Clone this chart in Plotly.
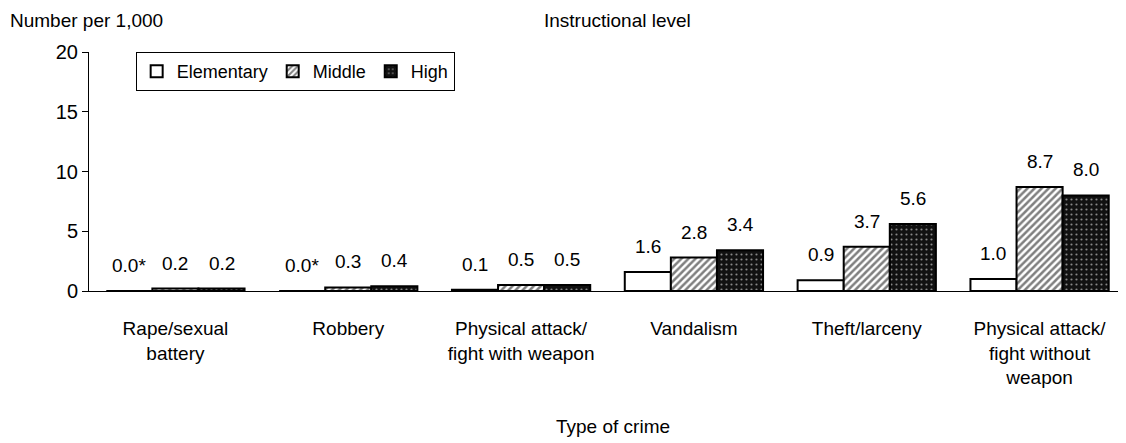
import plotly.graph_objects as go

crimes = ["Rape/sexual<br>battery", "Robbery", "Physical attack/<br>fight with weapon",
          "Vandalism", "Theft/larceny", "Physical attack/<br>fight without<br>weapon"]
elementary = [0.0, 0.0, 0.1, 1.6, 0.9, 1.0]
middle = [0.2, 0.3, 0.5, 2.8, 3.7, 8.7]
high = [0.2, 0.4, 0.5, 3.4, 5.6, 8.0]
elementary_labels = ["0.0*", "0.0*", "0.1", "1.6", "0.9", "1.0"]

FONT = "Liberation Sans, Arial, sans-serif"

# page has an 8px body margin, so the figure is drawn 8px in from the window edge
W, H = 1118, 435
ML, MT, MB, MR = 81, 44, 152, 0
plot_w = W - ML - MR
plot_h = H - MT - MB
bar_px = plot_w / len(crimes) * 0.8 / 3

fig = go.Figure()
fig.add_trace(go.Bar(x=crimes, y=elementary, name="Elementary",
                     marker=dict(color="white", line=dict(color="black", width=2))))
fig.add_trace(go.Bar(x=crimes, y=middle, name="Middle",
                     marker=dict(color="white", line=dict(color="black", width=2),
                                 pattern=dict(shape="/", fgcolor="black", bgcolor="white",
                                              size=5, solidity=0.5))))
fig.add_trace(go.Bar(x=crimes, y=high, name="High",
                     marker=dict(color="#111111", line=dict(color="black", width=2),
                                 pattern=dict(shape=".", fgcolor="white", bgcolor="#111111",
                                              size=5, solidity=0.15))))

# value labels sit well above each bar, as in the original
annots = []
series = [(elementary, elementary_labels, -1),
          (middle, ["%.1f" % v for v in middle], 0),
          (high, ["%.1f" % v for v in high], 1)]
for vals, txts, k in series:
    for cat, v, t in zip(crimes, vals, txts):
        annots.append(dict(x=cat, y=v, text=t, showarrow=False, xanchor="center",
                           yanchor="bottom", xshift=k * bar_px, yshift=13,
                           font=dict(size=19)))

top_y = (plot_h + MT) / plot_h  # top edge of the figure in paper units
annots += [
    dict(text="Number per 1,000", xref="paper", yref="paper",
         x=-ML / plot_w, y=top_y, xanchor="left", yanchor="top",
         showarrow=False, font=dict(size=19)),
    dict(text="Instructional level", xref="paper", yref="paper",
         x=0.51, y=top_y, xanchor="center", yanchor="top",
         showarrow=False, font=dict(size=19)),
    dict(text="Type of crime", xref="paper", yref="paper",
         x=0.505, y=-0.565, xanchor="center", yanchor="middle",
         showarrow=False, font=dict(size=19)),
]

fig.update_layout(
    width=W, height=H,
    margin=dict(l=ML, r=MR, t=MT, b=MB),
    paper_bgcolor="white", plot_bgcolor="white",
    font=dict(family=FONT, size=19, color="black"),
    barmode="group", bargap=0.2, bargroupgap=0,
    showlegend=True,
    legend=dict(orientation="h", x=0.045, y=1.0, xanchor="left", yanchor="top",
                bordercolor="black", borderwidth=1, bgcolor="white",
                font=dict(size=18), itemwidth=30, tracegroupgap=0),
    xaxis=dict(showline=True, linecolor="black", linewidth=1, ticks="",
               tickfont=dict(size=19), showgrid=False, ticklabelstandoff=20),
    yaxis=dict(range=[0, 20], tickvals=[0, 5, 10, 15, 20], showline=True,
               linecolor="black", linewidth=1, ticks="outside", ticklen=6,
               tickcolor="black", showgrid=False, zeroline=False,
               tickfont=dict(size=20)),
    annotations=annots,
)

fig.write_html("out.html")
